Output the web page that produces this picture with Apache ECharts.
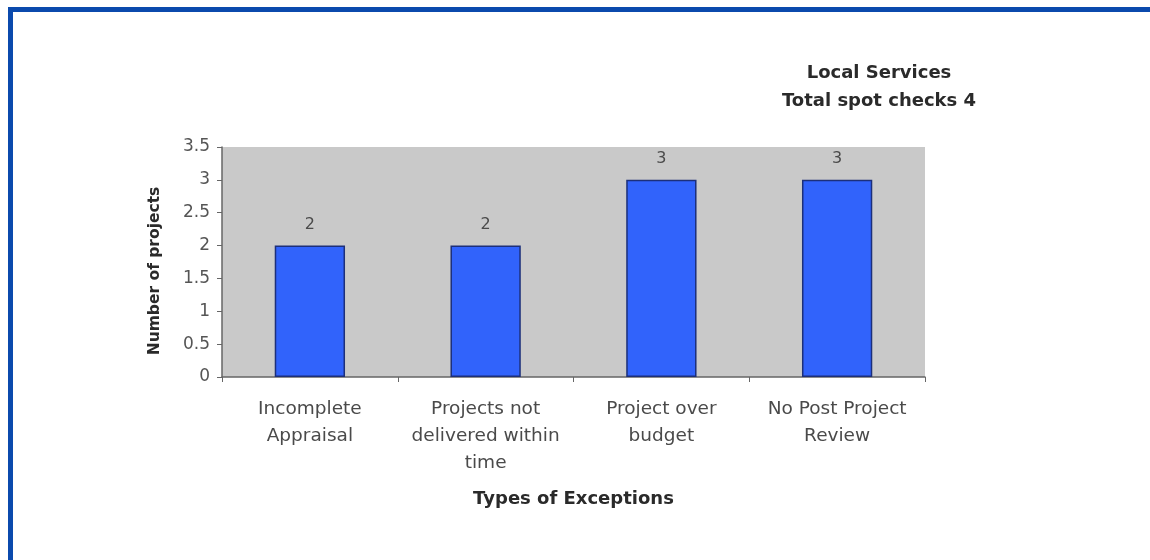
<!DOCTYPE html>
<html>
<head>
<meta charset="utf-8">
<script src="https://cdn.jsdelivr.net/npm/echarts@6/dist/echarts.min.js"></script>
<style>
  html, body { margin: 0; padding: 0; background: #ffffff; }
  #chart { width: 1150px; height: 560px; }
</style>
</head>
<body>
<div id="chart"></div>
<script>
// Exception categories and project counts
const categories = [
  'Incomplete\nAppraisal',
  'Projects not\ndelivered within\ntime',
  'Project over\nbudget',
  'No Post Project\nReview'
];
const projectCounts = [2, 2, 3, 3];
const titleLines = ['Local Services', 'Total spot checks 4'];
const yAxisName = 'Number of projects';
const xAxisName = 'Types of Exceptions';

const FONT = '"DejaVu Sans", Verdana, sans-serif';
const chart = echarts.init(document.getElementById('chart'), null, { renderer: 'canvas' });

chart.setOption({
  backgroundColor: '#ffffff',
  animation: false,
  textStyle: { fontFamily: FONT },
  title: {
    text: titleLines.join('\n'),
    left: 874,
    top: 54,
    textAlign: 'center',
    textStyle: {
      fontFamily: FONT,
      fontSize: 18,
      fontWeight: 'bold',
      color: '#2a2a2a',
      lineHeight: 28
    }
  },
  graphic: [
    // frame along the top and left of the page
    { type: 'rect', shape: { x: 8, y: 7, width: 1142, height: 5 }, style: { fill: '#0b4aad' } },
    { type: 'rect', shape: { x: 8, y: 7, width: 5, height: 553 }, style: { fill: '#0b4aad' } }
  ],
  grid: {
    left: 222,
    right: 225,
    top: 147,
    bottom: 183,
    show: true,
    backgroundColor: '#c9c9c9',
    borderWidth: 0
  },
  xAxis: {
    type: 'category',
    data: categories,
    name: xAxisName,
    nameLocation: 'middle',
    nameGap: 113,
    nameTextStyle: { fontFamily: FONT, fontSize: 18, fontWeight: 'bold', color: '#2a2a2a' },
    axisLine: { show: true, lineStyle: { color: '#666666', width: 1.5 } },
    axisTick: { show: true, length: 5, lineStyle: { color: '#666666' } },
    axisLabel: {
      interval: 0,
      margin: 19,
      fontFamily: FONT,
      fontSize: 18.5,
      lineHeight: 27,
      color: '#4a4a4a'
    },
    splitLine: { show: false }
  },
  yAxis: {
    type: 'value',
    min: 0,
    max: 3.5,
    interval: 0.5,
    name: yAxisName,
    nameLocation: 'middle',
    nameGap: 59,
    nameRotate: 90,
    nameTextStyle: {
      fontFamily: FONT,
      fontSize: 15.5,
      fontWeight: 'bold',
      color: '#2a2a2a',
      padding: [0, 18, 0, 0]
    },
    axisLine: { show: true, lineStyle: { color: '#666666', width: 1.5 } },
    axisTick: { show: true, length: 5, lineStyle: { color: '#666666' } },
    axisLabel: { margin: 12, fontFamily: FONT, fontSize: 17, color: '#555555' },
    splitLine: { show: false }
  },
  series: [{
    type: 'bar',
    data: projectCounts,
    barWidth: '40%',
    itemStyle: { color: '#3163fb', borderColor: '#1c2f7a', borderWidth: 1.5 },
    label: {
      show: true,
      position: 'top',
      distance: 13,
      fontFamily: FONT,
      fontSize: 16,
      color: '#4a4a4a'
    }
  }]
});
</script>
</body>
</html>
